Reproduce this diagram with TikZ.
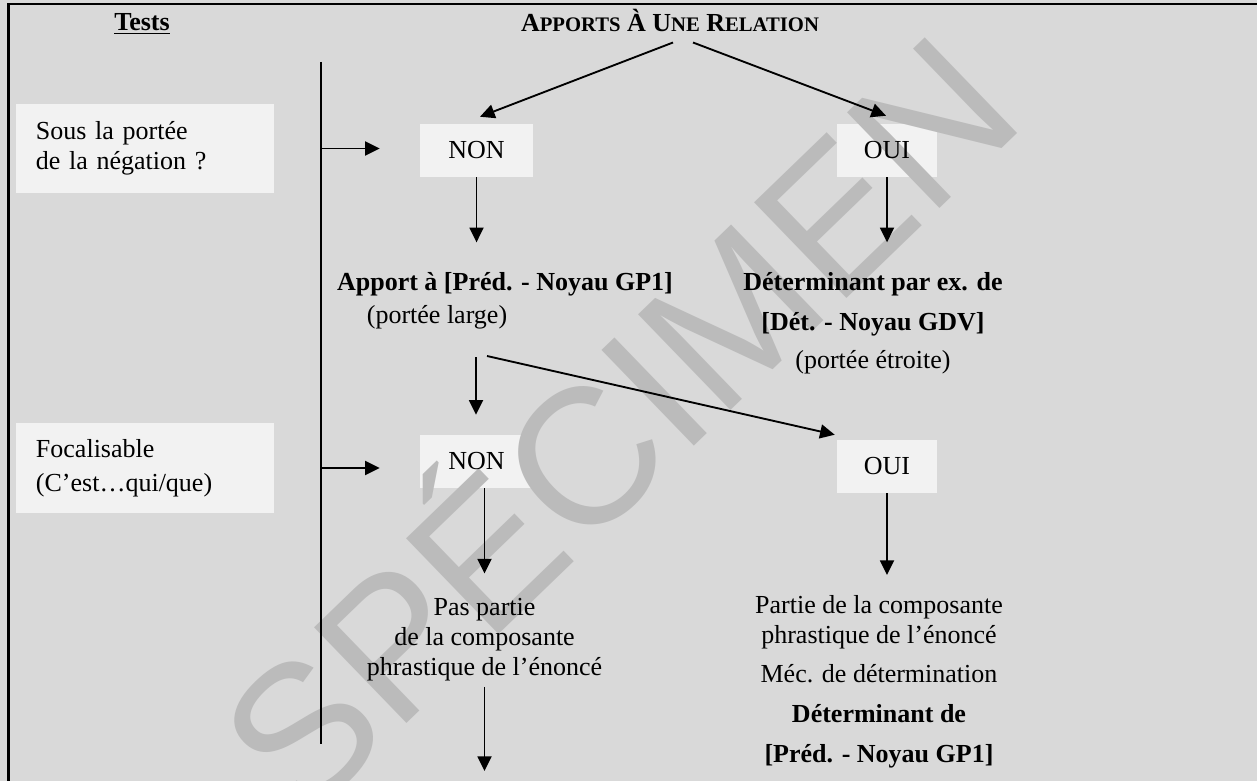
\documentclass[tikz,border=0pt]{standalone}
\usepackage{fontspec}
\setmainfont{Liberation Serif}
\newfontfamily\wmfont{Liberation Sans}
\usetikzlibrary{positioning, calc, arrows.meta}
\definecolor{pageGray}{RGB}{217,217,217}
\definecolor{boxGray}{RGB}{242,242,242}
\definecolor{markGray}{RGB}{187,187,187}
\pgfdeclarelayer{background}
\pgfdeclarelayer{watermark}
\pgfsetlayers{background,watermark,main}
\newcommand{\smcap}[1]{{\fontsize{15.5pt}{18pt}\selectfont #1}}

\begin{document}
\begin{tikzpicture}[
    x=0.75pt, y=-0.75pt,
    font=\fontsize{19.5pt}{22.5pt}\selectfont,
    testbox/.style={rectangle, inner xsep=15pt, inner ysep=0pt,
                    text width=163.5pt, minimum height=66.75pt, align=left},
    choice/.style={rectangle, inner sep=0pt, minimum height=39.75pt},
    nonbox/.style={choice, minimum width=84.75pt},
    ouibox/.style={choice, minimum width=75pt},
    txt/.style={inner sep=0pt, align=center, anchor=base},
    arr/.style={-{Triangle[length=11pt, width=10.5pt]}, line width=1.4pt},
    wmark/.style={font=\wmfont\fontsize{145pt}{150pt}\selectfont, text=markGray,
                  inner sep=0pt, rotate=44},
  ]
    \useasboundingbox (0,0) rectangle (1257,781);

    % Headings
    \node[txt] (tests) at (142,31) {\bfseries\underline{Tests}};
    \node[txt] (rel) at (670,32) {\bfseries A\smcap{PPORTS} À U\smcap{NE} R\smcap{ELATION}};

    % Tests column
    \coordinate (axTop) at (321,62);
    \coordinate (axBot) at (321,744);
    \node[testbox] (test1) at (145,148.5) {Sous la portée\\de la négation ?};
    \node[testbox] (test2) at (145,468) {Focalisable\\[3pt](C’est…qui/que)};

    % First test
    \node[nonbox] (nonA) at (476.5,150.5) {NON};
    \node[ouibox] (ouiA) at (887,150.5) {OUI};
    \node[txt] (appA) at (505,290) {\bfseries Apport à [Préd. - Noyau GP1]};
    \node[txt] (appAsub) at (437,323) {(portée large)};
    \node[txt] (detA) at (873,368)
      {\bfseries Déterminant par ex. de\\[7.5pt]\bfseries [Dét. - Noyau GDV]\\[6pt](portée étroite)};

    % Second test
    \coordinate (splitL) at (476,357);
    \coordinate (splitR) at (487,356);
    \node[nonbox] (nonB) at (476.5,461.5) {NON};
    \node[ouibox] (ouiB) at (887,466.5) {OUI};
    \node[txt] (pasP) at (484.5,675) {Pas partie\\de la composante\\phrastique de l’énoncé};
    \coordinate (pasEnd) at (484.5,771);
    \node[txt] (partP) at (879,762)
      {Partie de la composante\\phrastique de l’énoncé\\[7pt]Méc. de détermination\\[7pt]%
       \bfseries Déterminant de\\[7.5pt]\bfseries [Préd. - Noyau GP1]};

    % Box fills
    \begin{pgfonlayer}{background}
      \fill[pageGray] (0,0) rectangle (1257,781);
      \foreach \b in {test1,test2,nonA,ouiA,nonB,ouiB} {
        \fill[boxGray] (\b.north west) rectangle (\b.south east);
      }
    \end{pgfonlayer}

    % Watermark
    \begin{pgfonlayer}{watermark}
      \node[wmark] (wm) at (608,414) {SPÉCIMEN};
    \end{pgfonlayer}

    % Frame and axis
    \draw[line width=2pt] (8.5,4) rectangle (1300,820);
    \draw[line width=1.4pt] (axTop) -- (axBot);

    % Connectors
    \draw[arr] ($(rel.south)+(3,10)$) -- ($(nonA.north)+(3.5,-7)$);
    \draw[arr] ($(rel.south)+(23,10)$) -- ($(ouiA.north)+(-1,-8)$);
    \draw[arr, shorten >=30pt] (test1.east -| axTop) -- (test1.east -| nonA.west);
    \draw[arr, shorten >=30pt] (test2.east -| axTop) -- (test2.east -| nonB.west);
    \draw[arr, shorten >=22pt] (nonA.south) -- (nonA.south |- appA.north);
    \draw[arr, shorten >=22pt] (ouiA.south) -- (ouiA.south |- detA.north);
    \draw[arr, shorten >=15pt] (splitL) -- (splitL |- nonB.north);
    \draw[arr] (splitR) -- ($(ouiB.north west)+(-2,-5)$);
    \draw[arr, shorten >=18pt] (nonB.south -| pasP.north) -- (pasP.north);
    \draw[arr, shorten <=4.5pt] (pasP.south) -- (pasEnd);
    \draw[arr, shorten >=15pt] (ouiB.south) -- (ouiB.south |- partP.north);
\end{tikzpicture}
\end{document}
